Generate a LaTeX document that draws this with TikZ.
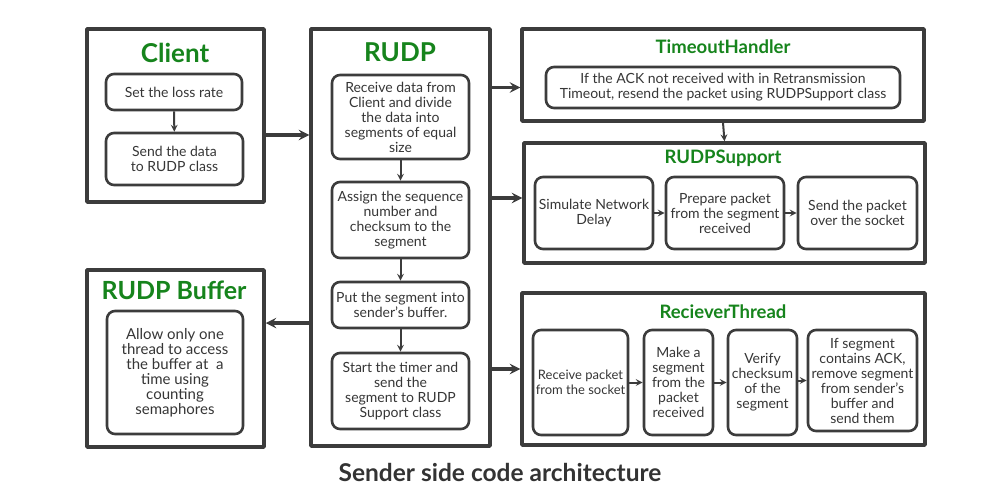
\documentclass[tikz,border=0pt]{standalone}
\usepackage{fontspec}
\setmainfont{Lato}
\usetikzlibrary{positioning}
\definecolor{lgray}{RGB}{60,60,60}
\definecolor{tgreen}{RGB}{22,132,28}
\begin{document}
\begin{tikzpicture}[x=1pt,y=-1pt, line join=round, >=stealth]
			%%%%%%%%% STYLES
			\tikzset{
				frame/.style 2 args={draw=lgray,line width=3.5pt,minimum width=#1,minimum height=#2,inner sep=0pt},
				stepbox/.style 2 args={draw=lgray,line width=2.6pt,rounded corners=8pt,minimum width=#1,minimum height=#2,inner sep=0pt,align=center,text=lgray!90!black,font=\fontsize{14}{15}\selectfont},
				title/.style={text=tgreen,font=\bfseries\fontsize{#1}{#1}\selectfont},
				title/.default=25,
				big/.style={->,draw=lgray,line width=3.5pt},
				small/.style={->,draw=lgray,line width=2pt}
			}
			\useasboundingbox[fill=white](0,0)rectangle(1000,500);
			%%%%%%%%% Client
			\node[frame={177}{173}](client) at (175.5,115.5){};
			\node[title=26](clientT) at (175,53){Client};
			\node[stepbox={136}{36}](loss) at (174,92){Set the loss rate};
			\node[stepbox={137}{52}](send) at (174.5,159){Send the data\\to RUDP class};
			%%%%%%%%% RUDP
			\node[frame={179}{417}](rudp) at (400.5,237.5){};
			\node[title=26](rudpT) at (400,52){RUDP};
			\node[stepbox={137}{84}](divide) at (400.5,117){Receive data from\\Client and divide\\the data into\\segments of equal\\size};
			\node[stepbox={137}{76}](assign) at (400.5,220){Assign the sequence\\number and\\checksum to the\\segment};
			\node[stepbox={137}{46}](put) at (400.5,305){Put the segment into\\sender’s buffer.};
			\node[stepbox={137}{76}](timer) at (400.5,391){Start the timer and\\send the\\segment to RUDP\\Support class};
			%%%%%%%%% RUDP Buffer
			\node[frame={177}{177}](buffer) at (175.5,358.5){};
			\node[title](bufferT) at (174,290){RUDP Buffer};
			\node[stepbox={136}{123},font=\fontsize{15}{15}\selectfont](allow) at (175,372.5){Allow only one\\thread to access\\the buffer at~ a\\time using\\counting\\semaphores};
			%%%%%%%%% TimeoutHandler
			\node[frame={402}{92}](timeout) at (723,75){};
			\node[title=18.5](timeoutT) at (723,47){TimeoutHandler};
			\node[stepbox={354}{41}](resend) at (723,87.5){If the ACK not received with in Retransmission\\Timeout, resend the packet using RUDPSupport class};
			%%%%%%%%% RUDPSupport
			\node[frame={401}{120}](support) at (724.5,203){};
			\node[title=18.5](supportT) at (723,158){RUDPSupport};
			\node[stepbox={118}{72}](delay) at (594,213){Simulate Network\\Delay};
			\node[stepbox={118}{72}](prepare) at (725,213){Prepare packet\\from the segment\\received};
			\node[stepbox={119}{72}](over) at (857.5,213){Send the packet\\over the socket};
			%%%%%%%%% RecieverThread
			\node[frame={403}{152}](thread) at (723.5,369){};
			\node[title=18.5](threadT) at (723,312){RecieverThread};
			\node[stepbox={95}{105},font=\fontsize{13}{15}\selectfont](recv) at (580.5,382.5){Receive packet\\from the socket};
			\node[stepbox={69}{105}](make) at (678.5,382.5){Make a\\segment\\from the\\packet\\received};
			\node[stepbox={69}{105}](verify) at (762.5,382.5){Verify\\checksum\\of the\\segment};
			\node[stepbox={109}{101}](remove) at (862.5,380.5){If segment\\contains ACK,\\remove segment\\from sender’s\\buffer and\\send them};
			%%%%%%%%% Caption
			\node[text=lgray!85!black,font=\bfseries\fontsize{24.5}{24.5}\selectfont](caption) at (500,472){Sender side code architecture};
			%%%%%%%%% Arrows
			\draw[big]([yshift=-19.5pt]client.east)--([yshift=-19.5pt]client.east-|rudp.west);
			\draw[big]([yshift=-85.5pt]rudp.west)--([yshift=-85.5pt]rudp.west-|buffer.east);
			\draw[big](rudp.east|-resend)--(timeout.west|-resend);
			\draw[big]([yshift=5pt]rudp.east|-support)--([yshift=5pt]support.west);
			\draw[big](rudp.east|-thread)--(thread.west);
			\draw[small](timeout.south)--(support.north);
			\foreach \a/\b in {loss/send,divide/assign,assign/put,put/timer}
				\draw[small](\a)--(\b);
			\foreach \a/\b in {delay/prepare,prepare/over,recv/make,make/verify,verify/remove}
				\draw[small](\a.east|-\b)--(\b.west);
	\end{tikzpicture}
\end{document}
